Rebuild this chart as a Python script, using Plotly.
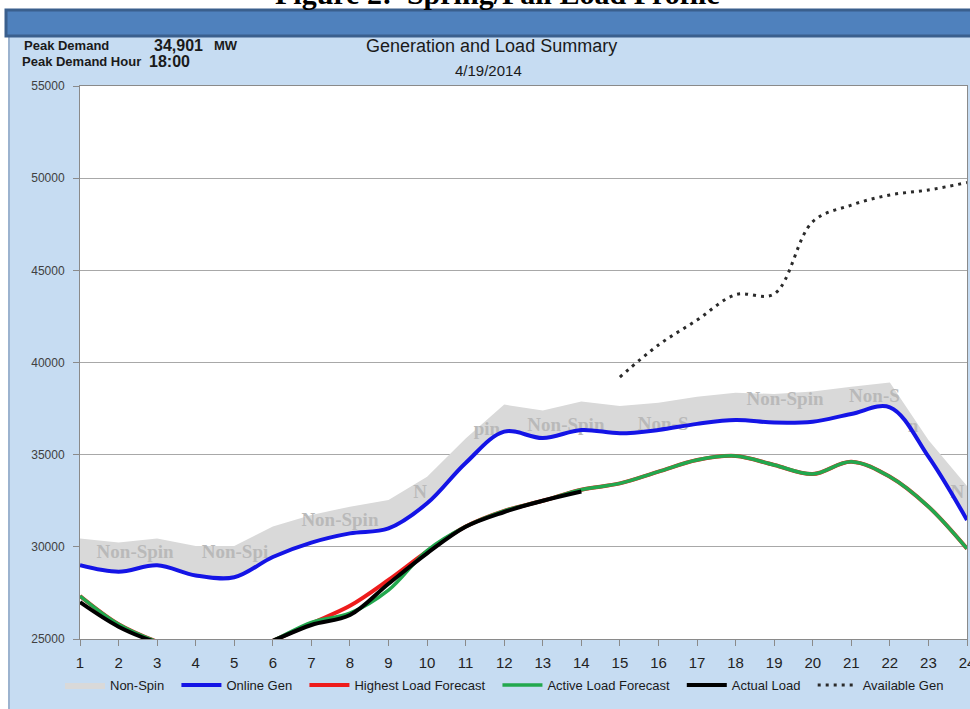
import plotly.graph_objects as go

# ---------------- data ----------------
hours = list(range(1, 25))
online_gen = [29000, 28650, 29000, 28450, 28350, 29450, 30230, 30730, 31000, 32360,
              34550, 36250, 35900, 36340, 36160, 36340, 36670, 36880, 36740, 36790,
              37210, 37570, 34890, 31460]
nonspin_top = [30450, 30230, 30450, 30050, 30050, 31100, 31730, 32180, 32540, 33800,
               35880, 37720, 37390, 37880, 37640, 37820, 38140, 38360, 38290, 38420,
               38690, 38920, 35800, 33300]
active_load = [27330, 25800, 24850, 24200, 24000, 24900, 25900, 26400, 27650, 29800,
               31100, 31950, 32500, 33100, 33440, 34080, 34710, 34930, 34440, 33950,
               34620, 33800, 32180, 29900]
highest_load = [27330, 25800, 24850, 24200, 24000, 24900, 25850, 26800, 28200, 29750,
                31100, 31950, 32500, 33100, 33440, 34080, 34710, 34930, 34440, 33950,
                34620, 33800, 32180, 29900]
actual_hours = list(range(1, 15))
actual_load = [27000, 25670, 24800, 24200, 24000, 24900, 25760, 26300, 28000, 29650,
               31090, 31890, 32500, 33000]
avail_hours = list(range(15, 25))
available_gen = [39210, 40950, 42300, 43680, 43720, 47640, 48540, 49090, 49360, 49760]

label_hours = [2.43, 5.02, 7.74, 9.82, 11.55, 13.6, 16.12, 19.28, 21.6, 22.6, 23.75]
label_vals = [29650, 29650, 31400, 32900, 36300, 36550, 36600, 37950, 38130, 36500, 32900]
label_text = ["Non-Spin", "Non-Spi", "Non-Spin", "N", "pin", "Non-Spin", "Non-S",
              "Non-Spin", "Non-S", "n", "N"]

y_ticks = [25000, 30000, 35000, 40000, 45000, 50000, 55000]

# ---------------- layout geometry ----------------
W, H = 970, 709
L, R, T, B = 80, 3, 86, 70
PW, PH = W - L - R, H - T - B


def px(x):
    return (x - L) / PW


def py(y):
    return (H - B - y) / PH


PAD = "\u00a0\u00a0"  # spacing after each legend entry

fig = go.Figure()

# Non-Spin band (stacked above online generation)
fig.add_trace(go.Scatter(x=hours, y=online_gen, mode="lines",
                         line=dict(width=0, shape="spline"), showlegend=False,
                         hoverinfo="skip"))
fig.add_trace(go.Scatter(x=hours, y=nonspin_top, mode="lines", name="Non-Spin" + PAD,
                         line=dict(width=0, color="#e6e0dc"), fill="tonexty",
                         fillcolor="#d9d9d9"))
fig.add_trace(go.Scatter(x=label_hours, y=label_vals, mode="text", text=label_text,
                         textfont=dict(family="Liberation Serif", size=19,
                                       color="#b9b9b9", weight="bold"),
                         showlegend=False, hoverinfo="skip"))
fig.add_trace(go.Scatter(x=hours, y=online_gen, mode="lines", name="Online Gen" + PAD,
                         line=dict(color="#1414e6", width=4, shape="spline")))
fig.add_trace(go.Scatter(x=hours, y=highest_load, mode="lines",
                         name="Highest Load Forecast" + PAD,
                         line=dict(color="#ee1c1c", width=4, shape="spline")))
fig.add_trace(go.Scatter(x=hours, y=active_load, mode="lines",
                         name="Active Load Forecast" + PAD,
                         line=dict(color="#22a84e", width=3.5, shape="spline")))
fig.add_trace(go.Scatter(x=actual_hours, y=actual_load, mode="lines",
                         name="Actual Load" + PAD,
                         line=dict(color="#000000", width=4, shape="spline")))
fig.add_trace(go.Scatter(x=avail_hours, y=available_gen, mode="lines",
                         name="Available Gen",
                         line=dict(color="#2a2a2a", width=3, dash="3px,5px",
                                   shape="spline")))

panel = "#c6dcf2"
shapes = [
    # white strip at the top and left outside the panel
    dict(type="rect", xref="paper", yref="paper", x0=px(0), x1=px(W),
         y0=py(0), y1=py(10), fillcolor="white", line=dict(width=0), layer="below"),
    dict(type="rect", xref="paper", yref="paper", x0=px(0), x1=px(8),
         y0=py(0), y1=py(H), fillcolor="white", line=dict(width=0), layer="below"),
    dict(type="line", xref="paper", yref="paper", x0=px(9), x1=px(9),
         y0=py(36), y1=py(H), line=dict(color="#9cb3cf", width=2), layer="below"),
    # header bar
    dict(type="rect", xref="paper", yref="paper", x0=px(6), x1=px(W + 5),
         y0=py(10), y1=py(36), fillcolor="#4f81bd",
         line=dict(color="#3a5f8d", width=3), layer="below"),
]

sans = "Liberation Sans, Arial"
narrow = "Liberation Sans Narrow, Arial Narrow, Liberation Sans"
annotations = [
    dict(text="<b>Figure 2:  Spring/Fall Load Profile</b>", x=px(497), y=py(12),
         xref="paper", yref="paper", xanchor="center", yanchor="bottom",
         showarrow=False, font=dict(family="Liberation Serif", size=30, color="#000")),
    dict(text="<b>Peak Demand</b>", x=px(22), y=py(45), xref="paper", yref="paper",
         xanchor="left", yanchor="middle", showarrow=False,
         font=dict(family=sans, size=13, color="#1a1a1a")),
    dict(text="<b>34,901</b>", x=px(152), y=py(45), xref="paper", yref="paper",
         xanchor="left", yanchor="middle", showarrow=False,
         font=dict(family=sans, size=16, color="#1a1a1a")),
    dict(text="<b>MW</b>", x=px(212), y=py(46), xref="paper", yref="paper",
         xanchor="left", yanchor="middle", showarrow=False,
         font=dict(family=sans, size=13, color="#1a1a1a")),
    dict(text="<b>Peak Demand Hour</b>", x=px(20), y=py(62), xref="paper", yref="paper",
         xanchor="left", yanchor="middle", showarrow=False,
         font=dict(family=sans, size=13, color="#1a1a1a")),
    dict(text="<b>18:00</b>", x=px(147), y=py(62), xref="paper", yref="paper",
         xanchor="left", yanchor="middle", showarrow=False,
         font=dict(family=sans, size=16, color="#1a1a1a")),
    dict(text="Generation and Load Summary", x=px(491), y=py(46), xref="paper",
         yref="paper", xanchor="center", yanchor="middle", showarrow=False,
         font=dict(family=sans, size=18, color="#1a1a1a")),
    dict(text="4/19/2014", x=px(488), y=py(70), xref="paper", yref="paper",
         xanchor="center", yanchor="middle", showarrow=False,
         font=dict(family=sans, size=15, color="#1a1a1a")),
]

fig.update_layout(
    width=W, height=H,
    margin=dict(l=L, r=R, t=T, b=B, pad=0, autoexpand=False),
    paper_bgcolor=panel, plot_bgcolor="white",
    shapes=shapes, annotations=annotations,
    showlegend=True,
    legend=dict(orientation="h", x=px(60), y=py(685), xanchor="left",
                yanchor="middle", bgcolor="rgba(0,0,0,0)", traceorder="normal",
                font=dict(family=sans, size=13, color="#1a1a1a"),
                itemwidth=40, tracegroupgap=0),
    xaxis=dict(range=[1, 24], tickvals=hours, showgrid=False, zeroline=False,
               showline=True, linecolor="#8a8a8a", linewidth=1, mirror=True,
               ticks="outside", ticklen=6, tickcolor="#8a8a8a",
               ticklabelstandoff=4, ticklabeloverflow="allow",
               tickfont=dict(family=narrow, size=15, color="#222")),
    yaxis=dict(range=[25000, 55000], tickvals=y_ticks, tickformat="d",
               showgrid=True, gridcolor="#a8a8a8", gridwidth=1, zeroline=False,
               showline=True, linecolor="#8a8a8a", linewidth=1, mirror=True,
               ticks="outside", ticklen=6, tickcolor="#8a8a8a",
               ticklabelstandoff=6,
               tickfont=dict(family=sans, size=12, color="#404040")),
)

fig.write_html("out.html", config={"displayModeBar": False},
               post_script="document.body.style.margin='0px';"
                           "document.body.style.overflow='hidden';")
